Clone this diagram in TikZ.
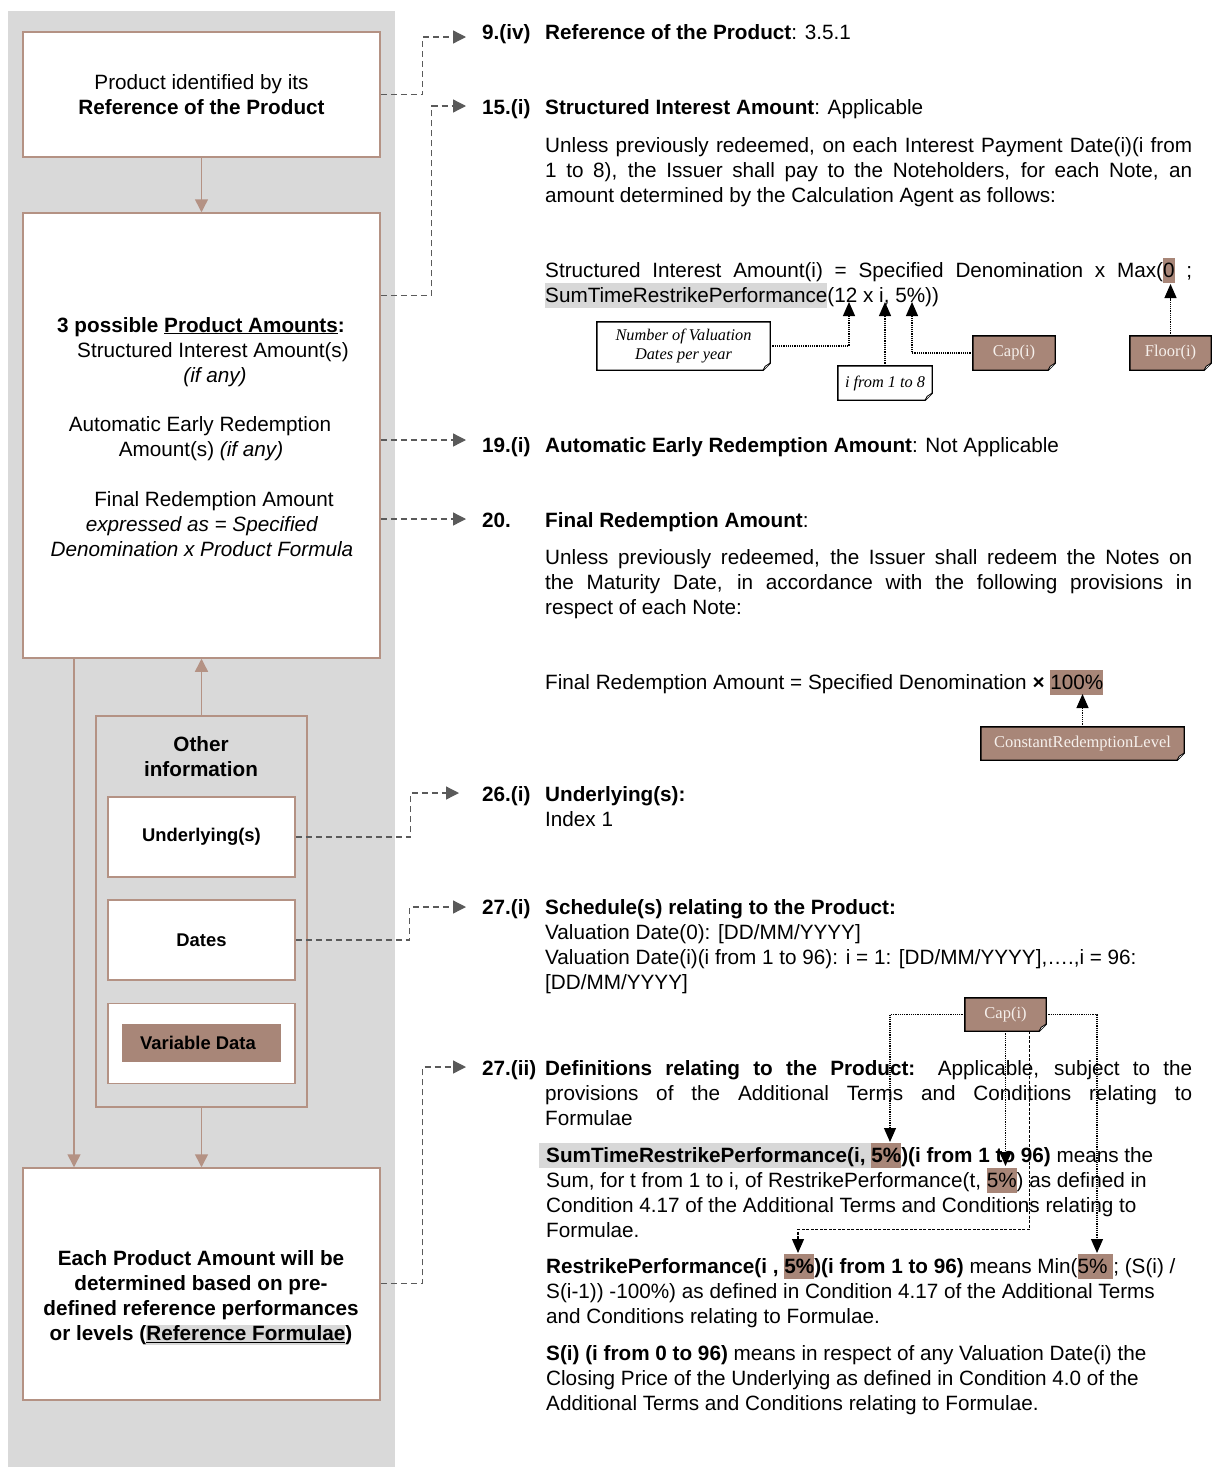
\documentclass[tikz,border=0pt]{standalone}
\usepackage{fontspec}
\setmainfont{Liberation Sans}
\newfontfamily\timesf{Liberation Serif}
\usetikzlibrary{arrows.meta}
\definecolor{panelgray}{RGB}{217,217,217}
\definecolor{boxbrown}{RGB}{180,146,132}
\definecolor{fillbrown}{RGB}{168,134,120}
\definecolor{hlgraycol}{RGB}{216,216,216}
\definecolor{dashgray}{RGB}{90,90,90}
\definecolor{notetext}{RGB}{246,240,236}
\newcommand\hlB[1]{{\setlength{\fboxsep}{0pt}\colorbox{fillbrown}{\rule[-6pt]{0pt}{25pt}#1}}}
\newcommand\hlG[1]{{\setlength{\fboxsep}{0pt}\colorbox{hlgraycol}{\rule[-6pt]{0pt}{25pt}#1}}}
\newcommand\hlL[1]{{\setlength{\fboxsep}{0pt}\colorbox{hlgraycol}{\rule[-4pt]{0pt}{20pt}#1}}}
\newcommand\jline[1]{\makebox[647pt][s]{#1}}
\newcommand\noteframe[1]{%
  \fill[white] ([xshift=-7pt]#1.south east) -- (#1.south east) -- ([yshift=7pt]#1.south east) -- cycle;
  \draw[line width=1.4pt, line join=miter] (#1.north west) -- (#1.north east) -- ([yshift=7pt]#1.south east) -- ([xshift=-7pt]#1.south east) -- (#1.south west) -- cycle;
  \draw[line width=0.8pt, fill=white] ([yshift=7pt]#1.south east) -- ([shift={(-5pt,4pt)}]#1.south east) -- ([xshift=-7pt]#1.south east);
}
\tikzset{
  flowbox/.style={draw=boxbrown, line width=1.5pt, fill=white, inner sep=0},
  flowarrow/.style={draw=boxbrown, line width=1.5pt, -{Triangle[width=13pt,length=13pt]}},
  dconn/.style={draw=dashgray, line width=1.3pt, dash pattern=on 6pt off 4pt, -{Triangle[width=13pt,length=13pt]}},
  carrow/.style={draw=black, line width=1.2pt, dash pattern=on 1.2pt off 1pt, -{Triangle[width=12pt,length=14pt]}},
  carrowd/.style={draw=black, line width=1.2pt, dash pattern=on 3pt off 1.5pt, -{Triangle[width=12pt,length=14pt]}},
  rtxt/.style={anchor=base west},
  ctxt/.style={anchor=base},
  smallbold/.style={font=\fontsize{18.4}{22}\selectfont\bfseries},
  calloutw/.style={fill=white, font=\timesf\itshape\fontsize{16.3}{19}\selectfont},
  calloutb/.style={fill=fillbrown, text=notetext, font=\timesf\fontsize{16.5}{19}\selectfont},
}
\begin{document}
\begin{tikzpicture}[x=1pt,y=-1pt, every node/.style={font=\fontsize{20.7}{25}\selectfont, inner sep=0}]
\useasboundingbox (0,0) rectangle (1211,1467);
\fill[white] (0,0) rectangle (1211,1467);
\fill[panelgray] (8,11) rectangle (395,1467);

% ---------- left flow ----------
\node[flowbox, minimum width=357pt, minimum height=125pt, align=center] (prod) at (201.5,94.5) {Product identified by its\\\textbf{Reference of the Product}};
\node[flowbox, minimum width=357pt, minimum height=445pt] (amounts) at (201.5,435.5) {};
\node[ctxt] (a1) at (201,332) {\textbf{3 possible \underline{Product Amounts}:}};
\node[ctxt] (a2) at (213,357) {Structured Interest Amount(s)};
\node[ctxt] (a3) at (215,382) {\textit{(if any)}};
\node[ctxt] (a4) at (200,431) {Automatic Early Redemption};
\node[ctxt] (a5) at (201,456) {Amount(s) \textit{(if any)}};
\node[ctxt] (a6) at (214,506) {Final Redemption Amount};
\node[ctxt] (a7) at (202,531) {\textit{expressed as = Specified}};
\node[ctxt] (a8) at (202,556) {\textit{Denomination x Product Formula}};

\node[flowbox, fill=panelgray, minimum width=211pt, minimum height=391pt] (other) at (201.5,911.5) {};
\node[align=center, font=\fontsize{20.7}{25}\selectfont\bfseries] (othtitle) at (201,757) {Other\\information};
\node[flowbox, smallbold, minimum width=187pt, minimum height=80pt] (und) at (201.5,837) {Underlying(s)};
\node[flowbox, smallbold, minimum width=187pt, minimum height=80pt] (dates) at (201.5,940) {Dates};
\node[flowbox, minimum width=187pt, minimum height=80pt] (vdbox) at (201.5,1043.5) {};
\node[fill=fillbrown, minimum width=159pt, minimum height=38pt] (vd) at (201.5,1043) {};
\node[smallbold] (vdtxt) at (198,1043) {Variable Data};

\node[flowbox, minimum width=357pt, minimum height=232pt] (each) at (201.5,1284) {};
\node[align=center, font=\fontsize{20.7}{25}\selectfont\bfseries] (eachtxt) at (201,1298) {Each Product Amount will be\\determined based on pre-\\defined reference performances\\or levels (\hlL{\underline{Reference Formulae}})};

\coordinate (lx) at (74,0);
\draw[flowarrow] (prod.south) -- (amounts.north);
\draw[flowarrow] (other.north) -- (amounts.south);
\draw[flowarrow] (other.south) -- (each.north);
\draw[flowarrow] (amounts.south -| lx) -- (each.north -| lx);

% ---------- right text ----------
\node[rtxt] (n9) at (482,39) {\textbf{9.(iv)}};
\node[rtxt] (h9) at (545,39) {\textbf{Reference of the Product}: 3.5.1};
\node[rtxt] (n15) at (482,114) {\textbf{15.(i)}};
\node[rtxt] (h15) at (545,114) {\textbf{Structured Interest Amount}: Applicable};
\node[rtxt] (p15a) at (545,152) {\jline{Unless previously redeemed, on each Interest Payment Date(i)(i from}};
\node[rtxt] (p15b) at (545,177) {\jline{1 to 8), the Issuer shall pay to the Noteholders, for each Note, an}};
\node[rtxt] (p15c) at (545,202) {amount determined by the Calculation Agent as follows:};
\node[rtxt] (f15a) at (545,277) {\jline{Structured Interest Amount(i) = Specified Denomination x Max(\hlB{0} ;}};
\node[rtxt] (f15b) at (545,302) {\hlG{SumTimeRestrikePerformance}(12 x i, 5\%))};

\node[rtxt] (n19) at (482,452) {\textbf{19.(i)}};
\node[rtxt] (h19) at (545,452) {\textbf{Automatic Early Redemption Amount}: Not Applicable};
\node[rtxt] (n20) at (482,527) {\textbf{20.}};
\node[rtxt] (h20) at (545,527) {\textbf{Final Redemption Amount}:};
\node[rtxt] (p20a) at (545,564) {\jline{Unless previously redeemed, the Issuer shall redeem the Notes on}};
\node[rtxt] (p20b) at (545,589) {\jline{the Maturity Date, in accordance with the following provisions in}};
\node[rtxt] (p20c) at (545,614) {respect of each Note:};
\node[rtxt] (f20) at (545,689) {Final Redemption Amount = Specified Denomination \textbf{×} \hlB{100\%}};

\node[rtxt] (n26) at (482,801) {\textbf{26.(i)}};
\node[rtxt] (h26) at (545,801) {\textbf{Underlying(s):}};
\node[rtxt] (i26) at (545,826) {Index 1};
\node[rtxt] (n27) at (482,914) {\textbf{27.(i)}};
\node[rtxt] (h27) at (545,914) {\textbf{Schedule(s) relating to the Product:}};
\node[rtxt] (l27a) at (545,939) {Valuation Date(0): [DD/MM/YYYY]};
\node[rtxt] (l27b) at (545,964) {Valuation Date(i)(i from 1 to 96): i = 1: [DD/MM/YYYY],….,i = 96:};
\node[rtxt] (l27c) at (545,989) {[DD/MM/YYYY]};

\node[rtxt] (n27b) at (482,1075) {\textbf{27.(ii)}};
\node[rtxt] (d27a) at (545,1075) {\jline{\textbf{Definitions relating to the Product:} Applicable, subject to the}};
\node[rtxt] (d27b) at (545,1100) {\jline{provisions of the Additional Terms and Conditions relating to}};
\node[rtxt] (d27c) at (545,1125) {Formulae};

\node[rtxt] (s1a) at (539,1162) {\hlG{\hspace{7pt}\textbf{SumTimeRestrikePerformance(i, }}\hlB{\textbf{5\%}}\textbf{)(i from 1 to 96)} means the};
\node[rtxt] (s1b) at (546,1187) {Sum, for t from 1 to i, of RestrikePerformance(t, \hlB{5\%}) as defined in};
\node[rtxt] (s1c) at (546,1212) {Condition 4.17 of the Additional Terms and Conditions relating to};
\node[rtxt] (s1d) at (546,1237) {Formulae.};
\node[rtxt] (r1a) at (546,1273) {\textbf{RestrikePerformance(i , \hlB{5\%})(i from 1 to 96)} means Min(\hlB{5\% };\ (S(i) /};
\node[rtxt] (r1b) at (546,1298) {S(i-1)) -100\%) as defined in Condition 4.17 of the Additional Terms};
\node[rtxt] (r1c) at (546,1323) {and Conditions relating to Formulae.};
\node[rtxt] (si1) at (546,1360) {\textbf{S(i) (i from 0 to 96)} means in respect of any Valuation Date(i) the};
\node[rtxt] (si2) at (546,1385) {Closing Price of the Underlying as defined in Condition 4.0 of the};
\node[rtxt] (si3) at (546,1410) {Additional Terms and Conditions relating to Formulae.};

% ---------- dashed connectors ----------
\coordinate (e9) at (466,37);
\coordinate (e15) at (466,106);
\coordinate (e19) at (466,440);
\coordinate (e20) at (466,519);
\coordinate (e26) at (459,793);
\coordinate (e27) at (466,907);
\coordinate (e27b) at (466,1067);
\draw[dconn] (prod.east) -- ++(42,0) |- (e9);
\draw[dconn] ([yshift=-83pt]amounts.north east) -- ++(51,0) |- (e15);
\draw[dconn] (amounts.north east |- e19) -- (e19);
\draw[dconn] (amounts.north east |- e20) -- (e20);
\draw[dconn] (und.east) -- ++(115,0) |- (e26);
\draw[dconn] (dates.east) -- ++(114,0) |- (e27);
\draw[dconn] ([yshift=-116pt]each.north east) -- ++(42,0) |- (e27b);

% ---------- callouts ----------
\node[calloutw, minimum width=173pt, minimum height=48pt, align=center] (nv) at (683.5,346) {Number of Valuation\\Dates per year};
\noteframe{nv}
\node[calloutw, minimum width=94pt, minimum height=34pt] (ni) at (885,383) {i from 1 to 8};
\noteframe{ni}
\node[calloutb, minimum width=82pt, minimum height=34pt] (capa) at (1014,353) {Cap(i)};
\noteframe{capa}
\node[calloutb, minimum width=81pt, minimum height=34pt] (flr) at (1170.5,353) {Floor(i)};
\noteframe{flr}
\node[calloutb, minimum width=203pt, minimum height=33pt] (crl) at (1082.5,743.5) {ConstantRedemptionLevel};
\noteframe{crl}
\node[calloutb, minimum width=81pt, minimum height=33pt] (capb) at (1005.5,1014.5) {Cap(i)};
\noteframe{capb}

\coordinate (t12) at (849,302);
\coordinate (ti) at (885,302);
\coordinate (t5) at (912,302);
\coordinate (t0) at (1170.5,284);
\coordinate (t100) at (1082.5,694);
\coordinate (s1) at (890,1142);
\coordinate (s2) at (1005.5,1166);
\coordinate (s3) at (798,1253);
\coordinate (s4) at (1097,1253);
\draw[carrow] (nv.east) -| (t12);
\draw[carrow] (ni.north) -- (ti);
\draw[carrow] (capa.west) -| (t5);
\draw[carrow] (flr.north) -- (t0);
\draw[carrow] (crl.north) -- (t100);
\draw[carrow] (capb.west) -| (s1);
\draw[carrow] (capb.east) -| (s4);
\draw[carrow] (capb.south) -- (s2);
\draw[carrowd] ([xshift=24pt]capb.south) -- ++(0,198) -| (s3);
\end{tikzpicture}
\end{document}
